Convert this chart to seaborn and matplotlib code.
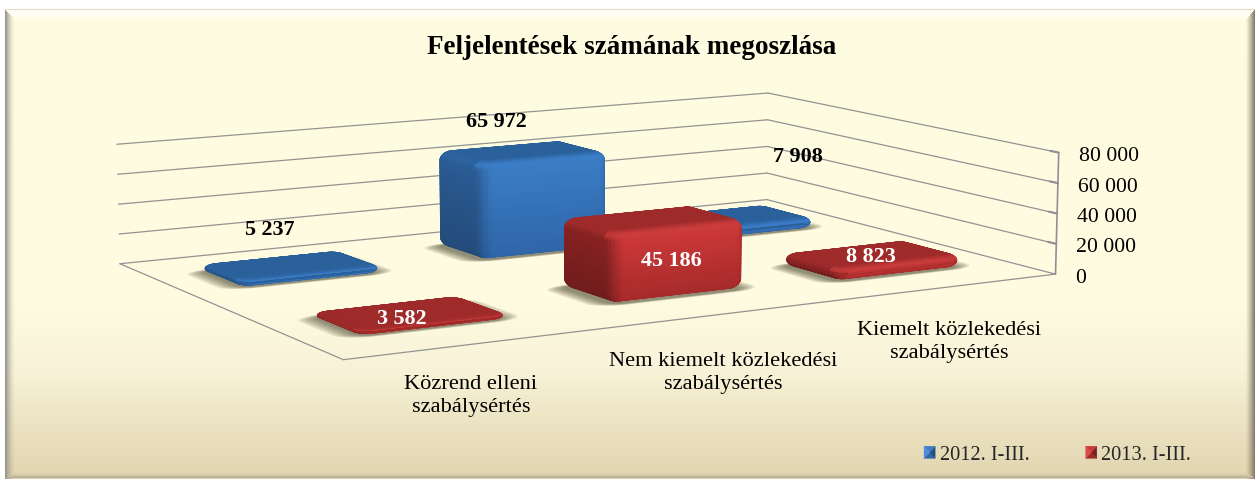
import numpy as np
import matplotlib
matplotlib.use('Agg')
import matplotlib.pyplot as plt
import seaborn as sns
from matplotlib.legend_handler import HandlerBase
from matplotlib.patches import Patch, Polygon
from mpl_toolkits.mplot3d import proj3d
from mpl_toolkits.mplot3d.art3d import Poly3DCollection

W, H = 1255, 479

# data
categories = ['Közrend elleni\nszabálysértés',
              'Nem kiemelt közlekedési\nszabálysértés',
              'Kiemelt közlekedési\nszabálysértés']
series_names = ['2012. I-III.', '2013. I-III.']
values_2012 = [5237, 65972, 7908]
values_2013 = [3582, 45186, 8823]
z_ticks = [0, 20000, 40000, 60000, 80000]

# layout (pixels)
label_pos_2012 = [(270, 230), (496, 122), (798, 157)]
label_pos_2013 = [(402, 319), (671, 261), (871, 257)]
category_pos = [(471, 396), (723, 373), (949, 342)]

# bar centres on the floor
cat_x = [0.50, 1.53, 2.485]
cy_2012 = [1.505, 1.54, 1.49]
cy_2013 = [0.50, 0.538, 0.482]

sns.set_theme(style='white')
plt.rcParams['font.family'] = ['Liberation Serif', 'DejaVu Serif']

BLUE = dict(top='#2b619b', hi='#3c7ec6', lo='#2e65a8', lhi='#2b5d96', llo='#234a78', edge='#4088d8')
RED = dict(top='#9e2a2a', hi='#d03a3a', lo='#a52a2a', lhi='#8a2222', llo='#6e1c1c', edge='#dc4444')
ASPECT = np.array([3.546, 2.350, 0.553])
XMAX, YMAX, ZMAX = 3.0, 2.0, 80000.0


def hexrgb(c):
    return np.array(sns.blend_palette([c, c], 2)[0][:3])


def background():
    stops_y = [0, 300, 370, 400, 470, 479]
    stops_c = np.array([hexrgb(c) for c in ['#fffde0', '#fefbe0', '#f8f3d8', '#f1e9cb', '#e3d7b2', '#e1d5b0']])
    base = np.stack([np.interp(np.arange(H), stops_y, stops_c[:, i]) for i in range(3)], axis=1)
    img = np.repeat(base[:, None, :], W, axis=1)
    yy, xx = np.mgrid[0:H, 0:W]
    d_l, d_t, d_r, d_b = xx - 5.0, yy - 9.0, 1254.0 - xx, 477.0 - yy
    bands = [(d_l, 10.0, '#98958a', 0.6), (d_t, 11.0, '#ffffff', 1.0),
             (d_r, 9.0, '#857d6b', 0.8), (d_b, 5.0, '#b9ae93', 0.6)]
    rel = np.stack([np.where(d >= 0, d / w, 9) for d, w, _, _ in bands])
    near = rel.argmin(axis=0)
    for i, (d, w, col, pw) in enumerate(bands):
        m = (near == i) & (rel[i] < 1)
        a = (1 - rel[i][m])[:, None] ** (1 / pw)
        img[m] = img[m] * (1 - a) + hexrgb(col) * a
    img[(d_l < 0) | (d_t < 0) | (yy > 478)] = 1.0
    img[(d_t >= 0) & (d_t < 1) & (d_l >= 0)] = hexrgb('#e8d8c0')
    return img


def outline(cx, cy, hx, hy, rx, ry, n=8):
    # rounded rectangle, going round counter clockwise
    pts = []
    corners = [(1, 1, 0), (-1, 1, 90), (-1, -1, 180), (1, -1, 270)]
    for sx, sy, a0 in corners:
        for t in np.radians(np.linspace(a0, a0 + 90, n)):
            pts.append((cx + sx * (hx - rx) + rx * np.cos(t), cy + sy * (hy - ry) + ry * np.sin(t)))
    return np.array(pts)


def bar_mesh(cx, cy, hx, hy, h, rx=0.055, ry=0.06, rz=6500.0):
    rz = min(rz, h / 2)
    rows = []
    for phi in np.radians(np.linspace(90, 0, 7)):  # bottom bevel
        rows.append((np.cos(phi), rz * (1 - np.sin(phi))))
    for z in np.linspace(rz, h - rz, 14)[1:-1]:
        rows.append((1.0, z))
    for phi in np.radians(np.linspace(0, 90, 11)):  # top bevel
        rows.append((np.cos(phi), h - rz * (1 - np.sin(phi))))
    rings = []
    for k, z in rows:
        o = outline(cx, cy, hx - rx * (1 - k), hy - ry * (1 - k), max(rx * k, 1e-4), max(ry * k, 1e-4))
        rings.append(np.c_[o, np.full(len(o), z)])
    quads = []
    for a, b in zip(rings[:-1], rings[1:]):
        m = len(a)
        for i in range(m):
            j = (i + 1) % m
            quads.append(np.array([a[i], a[j], b[j], b[i]]))
    return quads, [rings[-1]]


def facet_colour(poly, pal, h):
    scale = ASPECT / np.array([XMAX, YMAX, ZMAX])
    p = poly * scale
    if len(p) > 4:
        n = np.array([0, 0, 1.0])
    else:
        n = np.cross(p[2] - p[0], p[3] - p[1])
    nn = np.linalg.norm(n)
    if nn == 0:
        return hexrgb(pal['top'])
    n = n / nn
    t = np.clip(poly[:, 2].mean() / max(h, 1), 0, 1)
    front = hexrgb(pal['lo']) * (1 - t) + hexrgb(pal['hi']) * t
    left = hexrgb(pal['llo']) * (1 - t) + hexrgb(pal['lhi']) * t
    w_top = max(n[2], 0) ** 2
    w_front = max(-n[1], 0) ** 2
    w_left = max(-n[0], 0) ** 2
    w_back = max(n[1], 0) ** 2 + max(n[0], 0) ** 2
    total = w_top + w_front + w_left + w_back + 1e-6
    col = (w_top * hexrgb(pal['top']) + w_front * front + w_left * left + w_back * hexrgb(pal['top'])) / total
    e = 4 * w_top * (1 - w_top) * (1 if n[1] < 0 else 0.2)
    return col * (1 - 0.6 * e) + hexrgb(pal['edge']) * 0.6 * e


class PyramidHandler(HandlerBase):
    # small square legend key with four shaded sides
    def __init__(self, shades):
        super().__init__()
        self.shades = shades

    def create_artists(self, legend, orig_handle, xdescent, ydescent, width, height, fontsize, trans):
        x0, y0 = -xdescent, -ydescent
        c = (x0 + width / 2, y0 + height / 2)
        a, b, d, e = (x0, y0), (x0 + width, y0), (x0 + width, y0 + height), (x0, y0 + height)
        sides = [(a, b), (b, d), (d, e), (e, a)]
        out = []
        for (p, q), col in zip(sides, self.shades[orig_handle.get_label()]):
            out.append(Polygon([p, q, c], closed=True, facecolor=col, edgecolor=col, linewidth=0.2, transform=trans))
        return out


fig = plt.figure(figsize=(W / 100, H / 100), dpi=100)
bg = fig.add_axes([0, 0, 1, 1], zorder=0)
bg.imshow(background(), aspect='auto', interpolation='nearest')
bg.axis('off')

ax = fig.add_axes([0, 0, 1, 1], projection='3d', zorder=1, computed_zorder=False)
ax.patch.set_visible(False)
ax.set_xlim(0, XMAX)
ax.set_ylim(0, YMAX)
ax.set_zlim(0, ZMAX)
ax.view_init(9.669, -120.132)
ax.set_proj_type('persp', focal_length=0.619)
ax.set_box_aspect(tuple(ASPECT))
ax.set_axis_off()
s, tx, ty = 4975.75, 583.55, 208.83
vl = ax.viewLim
ax.set_position([(tx + s * vl.x0) / W, (H - ty + s * vl.y0) / H, s * (vl.x1 - vl.x0) / W, s * (vl.y1 - vl.y0) / H])

# walls and floor
line = dict(color='#939393', lw=0.9, clip_on=False, zorder=1)
for z in z_ticks:
    ax.plot([0, XMAX], [YMAX, YMAX], [z, z], **line)
    ax.plot([XMAX, XMAX], [YMAX, 0], [z, z], **line)
    if z > 0:
        ax.plot([XMAX, XMAX], [0.05, 0], [z, z], color='#8f8f98', lw=1.5, clip_on=False, zorder=1)
ax.plot([0, 0], [YMAX, 0], [0, 0], **line)
ax.plot([0, XMAX], [0, 0], [0, 0], **line)
ax.plot([XMAX, XMAX], [0, 0], [0, ZMAX], color='#8f8f98', lw=1.2, clip_on=False, zorder=1)


def project(x, y, z):
    xp, yp, _ = proj3d.proj_transform(x, y, z, ax.get_proj())
    return xp, yp


for z in z_ticks:
    ax.annotate(f'{z:,}'.replace(',', ' '), project(XMAX, 0, z), xytext=(20, -4), textcoords='offset pixels',
                ha='left', va='center', fontsize=15.7, color='black', annotation_clip=False)

# bars, back row first
order = 3
rows = [(cy_2012, values_2012, BLUE), (cy_2013, values_2013, RED)]
hx, hy = 0.29, 0.195
for cys, vals, pal in rows:
    for i, v in enumerate(vals):
        cx, cy = cat_x[i], cys[i]
        for g in np.linspace(0.07, 0.0, 7):  # soft shadow on the floor
            o = outline(cx - 0.005, cy, hx + g, hy + g * 0.35, 0.06 + g, 0.06 + g * 0.35)
            sh = Poly3DCollection([np.c_[o, np.zeros(len(o))]], facecolors='#3e3a26', edgecolors='none', alpha=0.11)
            sh.set_zorder(2)
            sh.set_clip_on(False)
            ax.add_collection3d(sh, autolim=False)
        quads, caps = bar_mesh(cx, cy, hx, hy, v)
        polys = quads + caps
        cols = [facet_colour(p, pal, v) for p in polys]
        body = Poly3DCollection(polys, facecolors=cols, edgecolors=cols, linewidths=0.8)
        body.set_zorder(order)
        body.set_clip_on(False)
        ax.add_collection3d(body, autolim=False)
        order += 1

label_rows = [(label_pos_2012, values_2012, 'black'), (label_pos_2013, values_2013, 'white')]
for positions, vals, colour in label_rows:
    for (px, py), v in zip(positions, vals):
        fig.text(px / W, 1 - py / H, f'{v:,}'.replace(',', ' '), ha='center', va='center', fontsize=15.9,
                 fontweight='bold', color=colour, zorder=5)

for (px, py), name in zip(category_pos, categories):
    fig.text(px / W, 1 - py / H, name, ha='center', va='center', fontsize=16.1, color='black',
             linespacing=1.3, zorder=5)

fig.text(631.5 / W, 1 - 47 / H, 'Feljelentések számának megoszlása', ha='center', va='center',
         fontsize=19.5, fontweight='bold', color='black', zorder=5)

handles = [Patch(label=series_names[0]), Patch(label=series_names[1])]
shades = {series_names[0]: ['#2f66a8', '#24507f', '#3c7ec6', '#4a8fdc'],
          series_names[1]: ['#a02a2a', '#7a2020', '#c93a3a', '#d94a4a']}
leg = fig.legend(handles=handles, ncol=2, frameon=False, loc='center left', bbox_to_anchor=(924 / W, 1 - 455 / H),
                 borderaxespad=0, borderpad=0, fontsize=14.7, handlelength=0.55, handleheight=0.55,
                 handletextpad=0.22, columnspacing=2.75,
                 handler_map={Patch: PyramidHandler(shades)})
leg.set_zorder(5)

ax.set_xlim(0, XMAX)
ax.set_ylim(0, YMAX)
ax.set_zlim(0, ZMAX)
fig.savefig('out.png', dpi=100)
